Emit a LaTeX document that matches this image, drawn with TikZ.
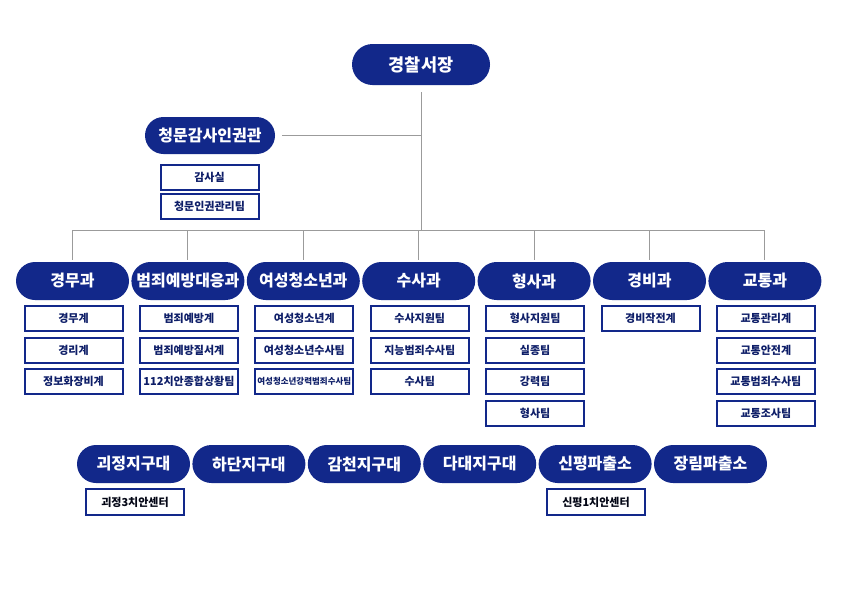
\documentclass[tikz,border=0pt]{standalone}
\usepackage{fontspec}
\setmainfont{Noto Sans CJK KR}
\usetikzlibrary{positioning}
\definecolor{navy}{RGB}{18,40,138}
\definecolor{linegray}{RGB}{155,155,155}

\begin{document}
\begin{tikzpicture}[x=1pt, y=-1pt,
  pill/.style={fill=navy, text=white, rounded corners=19pt, minimum width=113pt, minimum height=38pt, inner sep=1pt, font=\bfseries\fontsize{16}{16}\selectfont},
  teambox/.style={draw=navy, line width=2pt, fill=white, text=navy!75!black, minimum width=98pt, minimum height=25pt, inner sep=1pt, font=\bfseries\fontsize{11}{11}\selectfont},
  link/.style={draw=linegray, line width=1pt}]
\useasboundingbox (0,0) rectangle (842,595);
% head and audit office
\node[pill, minimum width=138pt, minimum height=41pt, rounded corners=20.5pt, font=\bfseries\fontsize{17.5}{17.5}\selectfont] (chief) at (421,64.5) {경찰서장};
\node[pill, minimum width=130pt, minimum height=37pt, rounded corners=18.5pt] (audit) at (210,135.5) {청문감사인권관};
\node[teambox] (audit-0) at (209.5,177.5) {감사실};
\node[teambox] (audit-1) at (209.5,206.5) {청문인권관리팀};
\coordinate (bus) at (421,230);
\draw[link] (chief.south) ++(0,7) -- (bus);
\draw[link] (audit.east) ++(7,0) -- (bus |- audit.east);
% divisions
\foreach \name [count=\i from 0] in {경무과,범죄예방대응과,여성청소년과,수사과,형사과,경비과,교통과} {
 \node[pill] (div-\i) at (72.5+115.4*\i,281) {\name};
 \draw[link] (div-\i.north) ++(0,-2) -- (div-\i.north |- bus);
}
\draw[link] (div-0.north |- bus) -- (div-6.north |- bus);
\foreach \teams [count=\i from 0] in {{경무계,경리계,정보화장비계},{범죄예방계,범죄예방질서계,112치안종합상황팀},{여성청소년계,여성청소년수사팀,{\fontsize{8.5}{8.5}\selectfont 여성청소년강력범죄수사팀}},{수사지원팀,지능범죄수사팀,수사팀},{형사지원팀,실종팀,강력팀,형사팀},{경비작전계},{교통관리계,교통안전계,교통범죄수사팀,교통조사팀}} {
 \foreach \team [count=\j from 0] in \teams {
  \node[teambox] (team-\i-\j) at (73.5+115.4*\i,318.5+31.5*\j) {\team};
 }
}
% police boxes
\foreach \name [count=\i from 0] in {괴정지구대,하단지구대,감천지구대,다대지구대,신평파출소,장림파출소}
 \node[pill] (post-\i) at (133.5+115.4*\i,464) {\name};
\node[teambox, minimum height=26pt, text=black!85!navy] (post-0-0) at (135,502) {괴정3치안센터};
\node[teambox, minimum height=26pt, text=black!85!navy] (post-4-0) at (596,502) {신평1치안센터};
\end{tikzpicture}
\end{document}
